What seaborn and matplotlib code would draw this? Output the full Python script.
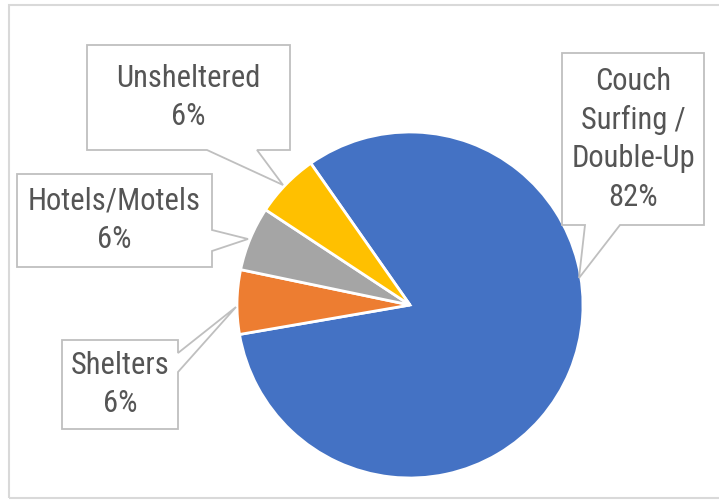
import matplotlib
matplotlib.use("Agg")
import matplotlib.pyplot as plt
import seaborn as sns
from matplotlib.patches import Polygon, Rectangle

# ---------- DATA ----------
categories = ["Couch\nSurfing /\nDouble-Up", "Shelters", "Hotels/Motels", "Unsheltered"]
shares = [82, 6, 6, 6]
pct_labels = ["82%", "6%", "6%", "6%"]
slice_colors = ["#4472C4", "#ED7D31", "#A5A5A5", "#FFC000"]

# ---------- LAYOUT (pixel coords, origin top-left) ----------
W, H = 719, 500
PIE_CENTER = (410, 305)
PIE_RADIUS = 173

# box = (left, top, right, bottom), side the pointer leaves from, pointer base, pointer tip
CALLOUTS = [
    dict(box=(562, 53, 704, 225), side="bottom", base=(585, 620), tip=(579, 278)),
    dict(box=(62, 340, 178, 429), side="right", base=(353, 372), tip=(236, 307)),
    dict(box=(17, 174, 212, 267), side="right", base=(230, 251), tip=(248, 239)),
    dict(box=(87, 45, 290, 150), side="bottom", base=(207, 257), tip=(283, 185)),
]

TEXT_COLOR = "#555555"
BOX_EDGE = "#BFBFBF"


def px(x, y):
    # screen pixel -> data coords (y up)
    return (x, H - y)


def callout_shape(box, side, base, tip):
    x0, y0, x1, y1 = box
    pts = [(x0, y0), (x1, y0)]
    if side == "right":
        pts += [(x1, base[0]), tip, (x1, base[1])]
    pts.append((x1, y1))
    if side == "bottom":
        pts += [(base[1], y1), tip, (base[0], y1)]
    pts.append((x0, y1))
    return [px(*p) for p in pts]


sns.set_theme(style="white")
plt.rcParams["font.family"] = ["Roboto Condensed", "Liberation Sans Narrow", "Roboto", "DejaVu Sans"]

fig = plt.figure(figsize=(W / 100, H / 100), dpi=100)
ax = fig.add_axes([0, 0, 1, 1])

palette = sns.color_palette(slice_colors)
ax.pie(
    shares,
    colors=palette,
    startangle=125,
    counterclock=False,
    center=px(*PIE_CENTER),
    radius=PIE_RADIUS,
    wedgeprops=dict(edgecolor="white", linewidth=2),
)

for cat, pct, c in zip(categories, pct_labels, CALLOUTS):
    ax.add_patch(Polygon(callout_shape(c["box"], c["side"], c["base"], c["tip"]),
                         closed=True, facecolor="white", edgecolor=BOX_EDGE,
                         linewidth=1.3, zorder=3))
    x0, y0, x1, y1 = c["box"]
    ax.text(*px((x0 + x1) / 2, (y0 + y1) / 2), f"{cat}\n{pct}",
            ha="center", va="center", fontsize=22, fontstretch="condensed",
            color=TEXT_COLOR, linespacing=1.4, zorder=4)

# outer chart frame
ax.add_patch(Rectangle(px(9, 498), 720, 493, fill=False, edgecolor="#D9D9D9",
                       linewidth=1.5, clip_on=False, zorder=1))

ax.set_xlim(0, W)
ax.set_ylim(0, H)
ax.set_aspect("equal")
ax.set_axis_off()

fig.savefig("out.png", dpi=100, facecolor="white")
